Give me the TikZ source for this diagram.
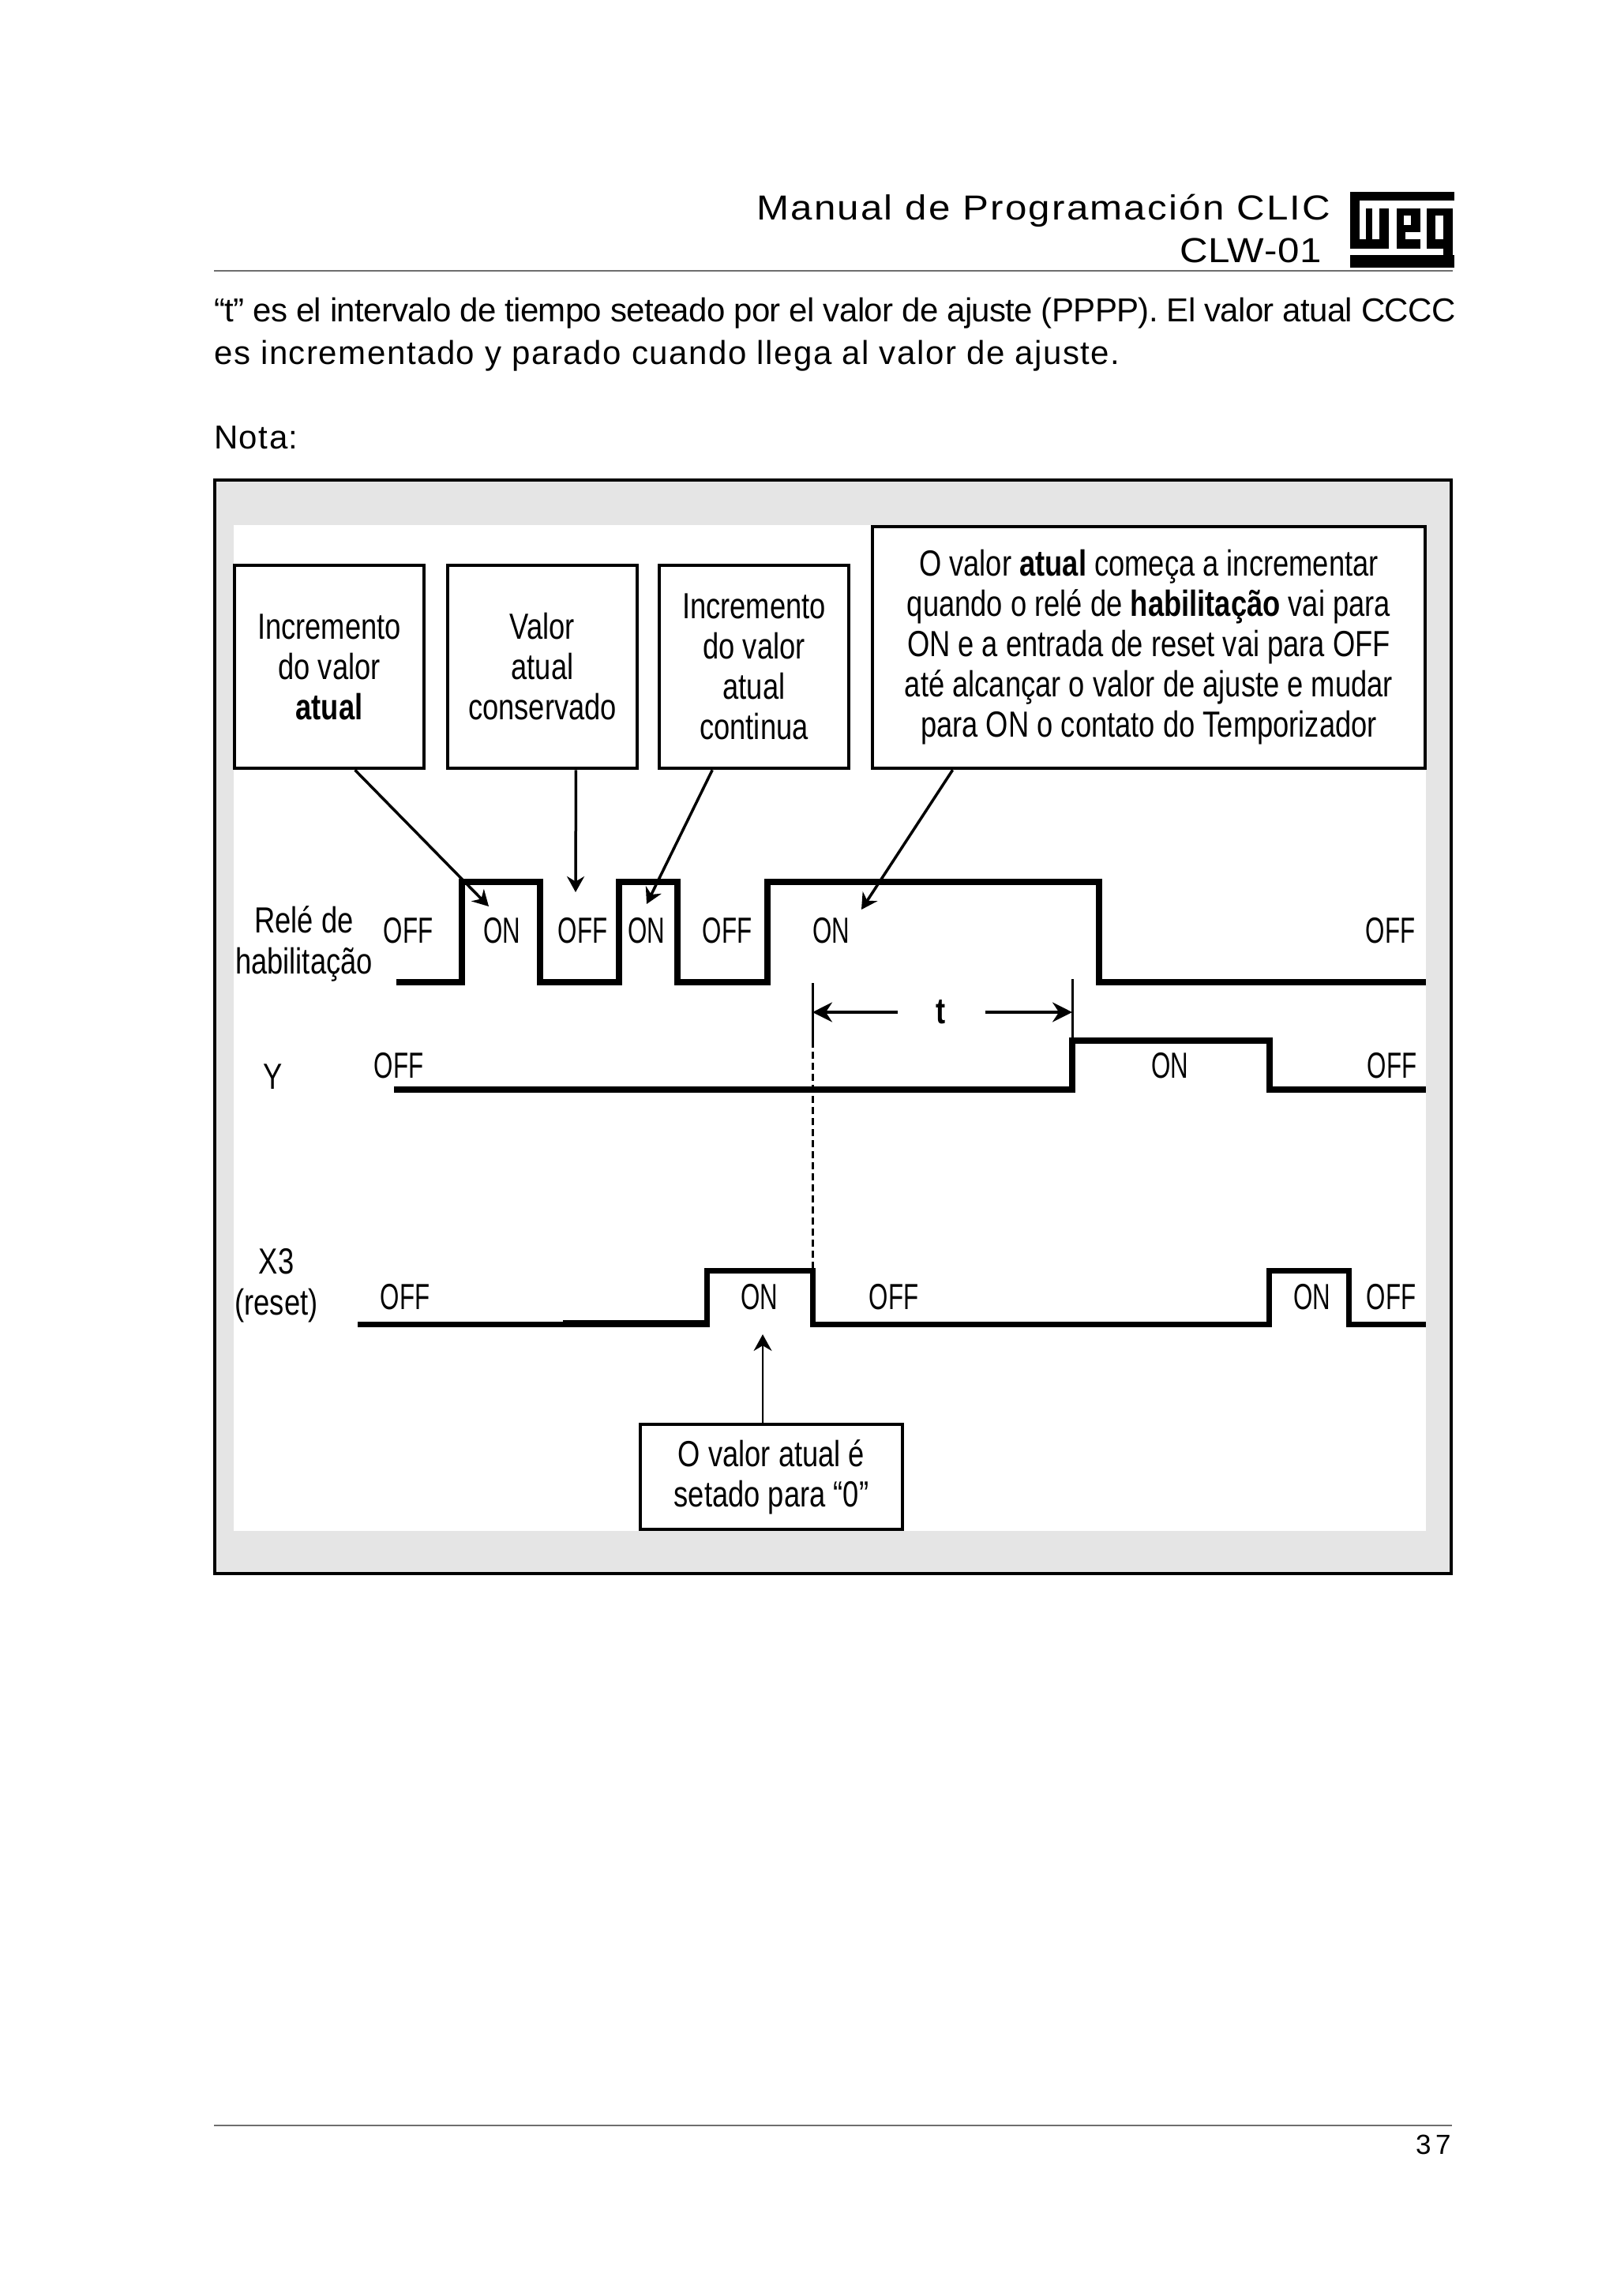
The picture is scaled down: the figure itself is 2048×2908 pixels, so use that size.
\documentclass[tikz,border=0pt]{standalone}
\usepackage{fontspec}
\setmainfont{Liberation Sans}
\newfontfamily\headfont[LetterSpace=5,FakeStretch=1.12]{Liberation Sans}
\newfontfamily\modelfont[LetterSpace=1.5,FakeStretch=1.12]{Liberation Sans}
\newfontfamily\tightfont[LetterSpace=-1.6]{Liberation Sans}
\newfontfamily\bodyfont[LetterSpace=3.6]{Liberation Sans}
\newfontfamily\pagefont[LetterSpace=16]{Liberation Sans}
\newfontfamily\chartfont[FakeStretch=0.79]{Liberation Sans}
\newfontfamily\statefont[FakeStretch=0.68]{Liberation Sans}
\definecolor{cPanel}{HTML}{E5E5E5}
\definecolor{cRule}{HTML}{6E6E6E}
\usetikzlibrary{arrows.meta}
\tikzset{
  page-text/.style={anchor=base west,inner sep=0pt,font=\bodyfont\fontsize{42}{42}\selectfont},
  node-box/.style={draw=black,line width=4.5pt,fill=white,align=center,inner sep=0pt,
    font=\chartfont\fontsize{46}{51}\selectfont},
  chart-label/.style={inner sep=0pt,align=center,font=\chartfont\fontsize{46}{52}\selectfont},
  state-label/.style={inner sep=0pt,font=\statefont\fontsize{46}{51}\selectfont},
  wave/.style={line width=8pt,miter limit=10},
  arrow/.style={-{Stealth[length=20pt,width=22pt]},line width=3.5pt},
  arrow-dim/.style={-{Stealth[length=25pt,width=25pt]},line width=3.5pt},
  arrow-thin/.style={-{Stealth[length=21pt,width=23pt]},line width=2pt},
  marker/.style={line width=3pt},
}
\begin{document}
\begin{tikzpicture}[x=1pt,y=-1pt]
  \useasboundingbox (0,0) rectangle (2048,2908);
  % header
  \node[page-text,font=\headfont\fontsize{44}{44}\selectfont] (title) at (958,278) {Manual de Programación CLIC};
  \node[page-text,font=\modelfont\fontsize{44}{44}\selectfont] (model) at (1494,332) {CLW-01};
  \begin{scope}[shift={(1650,220)},x=1/3 pt,y=-1/3 pt]
    \fill (180,68) rectangle (575,103);
    \fill (180,68) rectangle (215,285);
    \fill (180,250) rectangle (328,285);
    \fill (240,133) rectangle (265,285);
    \fill (292,133) rectangle (328,285);
    \fill (357,133) rectangle (448,285);
    \fill[white] (385,160) rectangle (412,195);
    \fill[white] (390,222) rectangle (448,250);
    \fill (470,133) rectangle (570,285);
    \fill[white] (505,160) rectangle (533,250);
    \fill (533,285) rectangle (570,320);
    \fill (180,308) rectangle (575,358);
  \end{scope}
  \coordinate (ruleL) at (271,343);
  \coordinate (ruleR) at (1840,343);
  \draw[cRule,line width=2.5pt] (ruleL) -- (ruleR);
  % page text
  \node[page-text,font=\tightfont\fontsize{42}{42}\selectfont] (lineA) at (271,407)
    {“t” es el intervalo de tiempo seteado por el valor de ajuste (PPPP). El valor atual CCCC};
  \node[page-text] (lineB) at (271,461)
    {es incrementado y parado cuando llega al valor de ajuste.};
  \node[page-text] (nota) at (271,568) {Nota:};
  % panel
  \draw[fill=cPanel,line width=4.5pt] (272,608) rectangle (1838,1993);
  \fill[white] (296,665) rectangle (1806,1939);
  % boxes
  \node[node-box,minimum width=240pt,minimum height=257pt] (boxA) at (417,844.5)
    {Incremento\\do valor\\\textbf{atual}};
  \node[node-box,minimum width=240pt,minimum height=257pt] (boxB) at (687,844.5)
    {Valor\\atual\\conservado};
  \node[node-box,minimum width=240pt,minimum height=257pt] (boxC) at (955,844.5)
    {Incremento\\do valor\\atual\\continua};
  \node[node-box,minimum width=700pt,minimum height=306pt] (boxD) at (1455,820)
    {O valor \textbf{atual} começa a incrementar\\quando o relé de \textbf{habilitação} vai para\\ON e a entrada de reset vai para OFF\\até alcançar o valor de ajuste e mudar\\para ON o contato do Temporizador};
  \node[node-box,line width=3.5pt,minimum width=332pt,minimum height=133pt] (boxE) at (977,1870.5)
    {O valor atual é\\setado para “0”};
  % row labels
  \node[chart-label] (relay) at (385,1195) {Relé de\\habilitação};
  \node[chart-label] (rowY) at (346,1364) {Y};
  \node[chart-label] (rowX) at (350,1628) {X3\\(reset)};
  % states
  \foreach \name/\px/\py/\txt in {a/517/1179/OFF,b/636/1179/ON,c/738/1179/OFF,d/819/1179/ON,
      e/921/1179/OFF,f/1053/1179/ON,g/1761/1179/OFF,h/505/1350/OFF,i/1482/1350/ON,j/1763/1350/OFF,
      k/513/1643/OFF,l/962/1643/ON,m/1132/1643/OFF,n/1662/1643/ON,o/1762/1643/OFF}
    \node[state-label] (state-\name) at (\px,\py) {\txt};
  % waves
  \draw[wave] (502,1244) -| (585,1117) -| (684,1244) -| (784,1117) -| (858,1244) -| (972,1117) -| (1392,1244) -- (1806,1244);
  \draw[wave] (499,1380) -| (1358,1318) -| (1608,1380) -- (1806,1380);
  \draw[wave,line width=7pt] (453,1677) -| (895,1609) -| (1029,1677) -| (1607,1609) -| (1708,1677) -- (1806,1677);
  \draw[line width=9pt] (713,1676) -- (895,1676);
  % time marks
  \coordinate (markL) at (1029,1245);
  \coordinate (markM) at (1029,1318);
  \coordinate (markB) at (1029,1609);
  \coordinate (markR) at (1358,1240);
  \coordinate (markS) at (1358,1318);
  \draw[marker] (markL) -- (markM);
  \draw[marker,dash pattern=on 9pt off 5pt] (markM) -- (markB);
  \draw[marker] (markR) -- (markS);
  \node[chart-label,font=\bfseries\chartfont\fontsize{46}{52}\selectfont] (time) at (1192,1282) {t};
  \coordinate (timeL) at (1137,1282);
  \coordinate (timeR) at (1248,1282);
  \draw[arrow-dim] (timeL) -- (1029,1282);
  \draw[arrow-dim] (timeR) -- (1358,1282);
  % callouts
  \coordinate (tipA) at (619,1148);
  \coordinate (tipB) at (729,1130);
  \coordinate (tipC) at (819,1145);
  \coordinate (tipD) at (1091,1152);
  \coordinate (tipE) at (966,1690);
  \draw[arrow] (boxA.-76) -- (tipA);
  \draw[arrow] (boxB.-72) -- (tipB);
  \draw[arrow] (boxC.-112) -- (tipC);
  \draw[arrow] (boxD.-148) -- (tipD);
  \draw[arrow-thin] (boxE.99) -- (tipE);
  % footer
  \coordinate (footL) at (271,2692);
  \coordinate (footR) at (1839,2692);
  \draw[cRule,line width=2.5pt] (footL) -- (footR);
  \node[page-text,font=\pagefont\fontsize{35}{35}\selectfont] (pageno) at (1793,2728) {37};
\end{tikzpicture}
\end{document}
